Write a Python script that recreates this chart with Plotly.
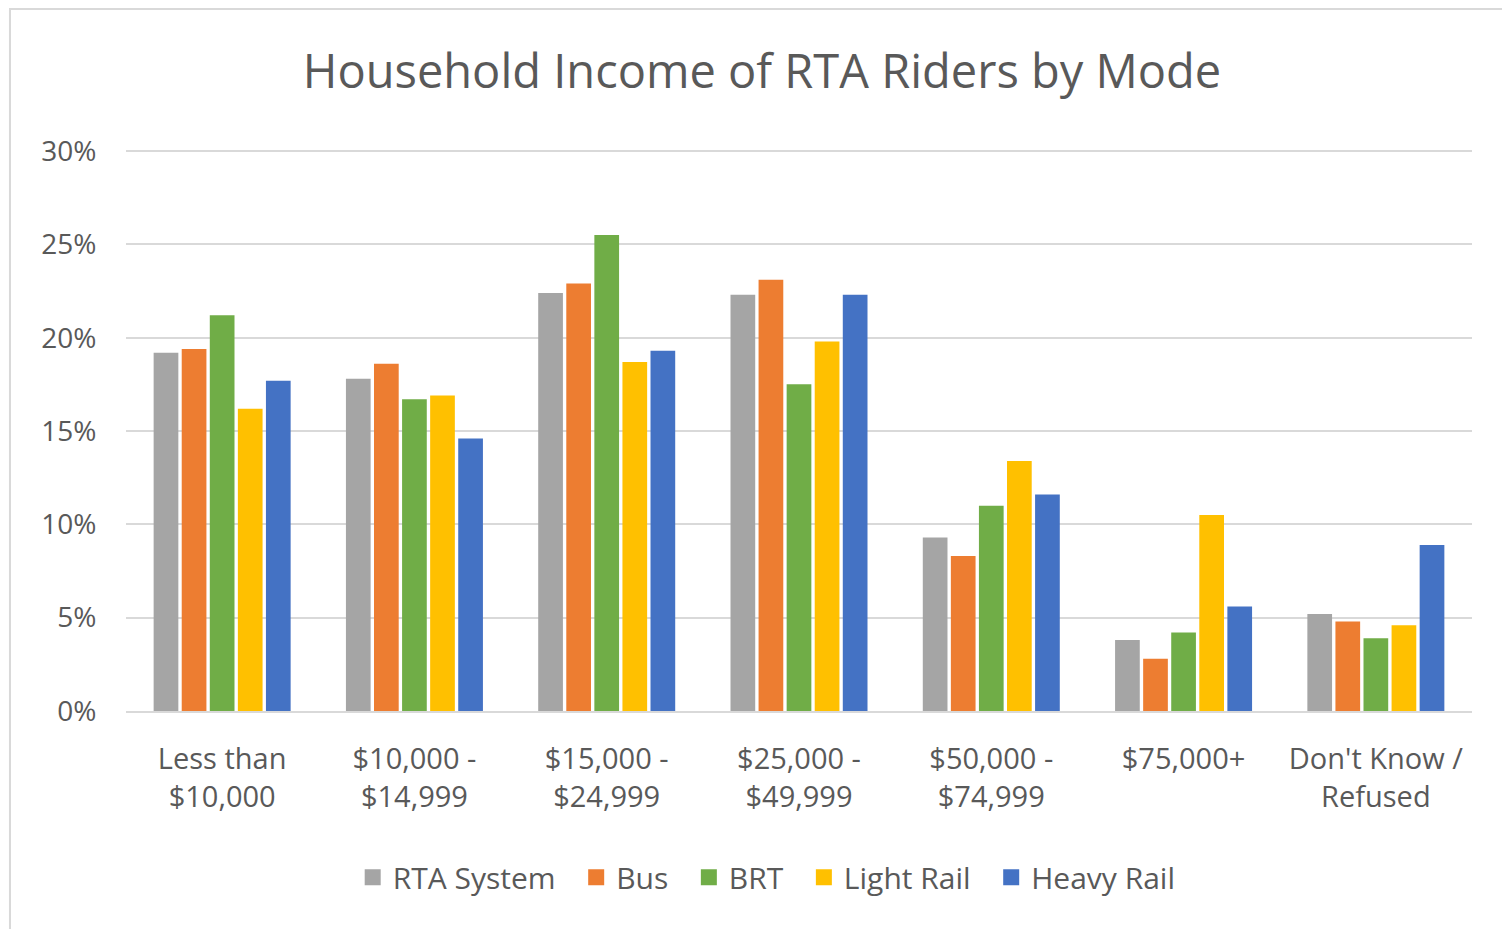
import plotly.graph_objects as go

# Income brackets and share of riders (%) per mode
categories = ["Less than<br>$10,000", "$10,000 -<br>$14,999", "$15,000 -<br>$24,999",
              "$25,000 -<br>$49,999", "$50,000 -<br>$74,999", "$75,000+",
              "Don't Know /<br>Refused"]

rta_system = [19.2, 17.8, 22.4, 22.3, 9.3, 3.8, 5.2]
bus = [19.4, 18.6, 22.9, 23.1, 8.3, 2.8, 4.8]
brt = [21.2, 16.7, 25.5, 17.5, 11.0, 4.2, 3.9]
light_rail = [16.2, 16.9, 18.7, 19.8, 13.4, 10.5, 4.6]
heavy_rail = [17.7, 14.6, 19.3, 22.3, 11.6, 5.6, 8.9]

tick_vals = [0, 5, 10, 15, 20, 25, 30]
tick_text = ["0%", "5%", "10%", "15%", "20%", "25%", "30%"]

series = [("RTA System", rta_system, "#A5A5A5"),
          ("Bus", bus, "#ED7D31"),
          ("BRT", brt, "#70AD47"),
          ("Light Rail", light_rail, "#FFC000"),
          ("Heavy Rail", heavy_rail, "#4472C4")]

font_name = "Open Sans"
text_color = "#595959"
pad = "\u00a0\u00a0"  # extra room between legend entries

fig = go.Figure()
for name, vals, color in series:
    fig.add_trace(go.Bar(x=categories, y=vals, name=name, marker_color=color,
                         marker_line_width=0, showlegend=False))

# legend entries with bigger square swatches, like the Excel legend
for i, (name, vals, color) in enumerate(series):
    label = name if i == len(series) - 1 else name + pad
    fig.add_trace(go.Scatter(x=[None], y=[None], mode="markers", name=label,
                             marker=dict(symbol="square", size=21, color=color)))

fig.update_layout(
    width=1502, height=921,
    barmode="group", bargap=0.27, bargroupgap=0.12,
    plot_bgcolor="white", paper_bgcolor="white",
    margin=dict(l=118, r=38, t=141, b=218),
    font=dict(family=font_name, color=text_color, size=28),
    title=dict(text="Household Income of RTA Riders by Mode", x=0.502, xanchor="center",
               y=0.9305, yanchor="middle", font=dict(size=47, color=text_color)),
    xaxis=dict(showgrid=False, showline=True, linecolor="#D9D9D9", linewidth=2,
               ticks="outside", ticklen=21, tickcolor="rgba(0,0,0,0)",
               tickfont=dict(size=29, color=text_color)),
    yaxis=dict(range=[0, 30.11], tickvals=tick_vals, ticktext=tick_text,
               gridcolor="#D9D9D9", gridwidth=2, zeroline=False,
               ticks="outside", ticklen=23, tickcolor="rgba(0,0,0,0)",
               tickfont=dict(size=28, color=text_color)),
    legend=dict(orientation="h", x=0.476, xanchor="center", y=-0.296, yanchor="middle",
                font=dict(size=30, color=text_color), itemwidth=30),
    shapes=[dict(type="rect", xref="paper", yref="paper", x0=-0.0862, x1=1.05,
                 y0=-0.5, y1=1.2491, line=dict(color="#D9D9D9", width=2),
                 fillcolor="rgba(0,0,0,0)", layer="below")],
)

fig.write_html("out.html")
